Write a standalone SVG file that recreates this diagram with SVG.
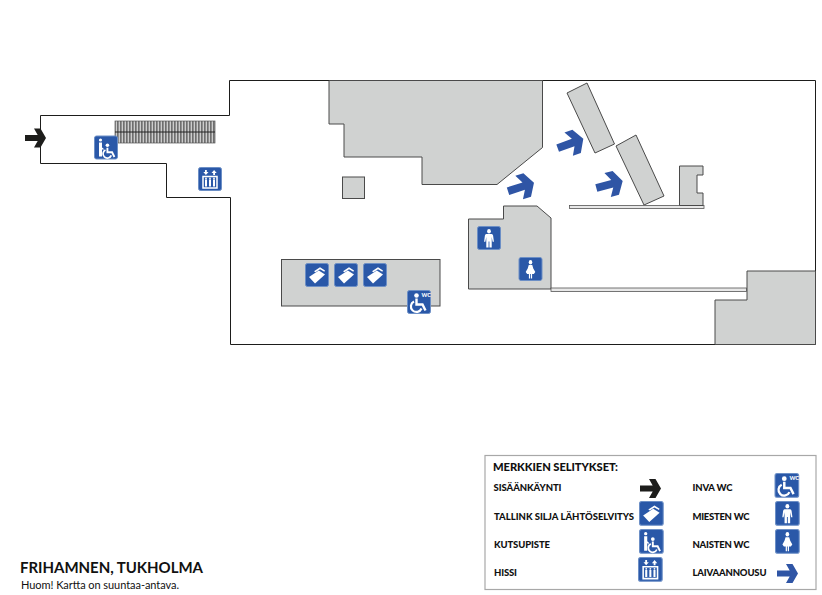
<svg xmlns="http://www.w3.org/2000/svg" xmlns:xlink="http://www.w3.org/1999/xlink" width="822" height="595" viewBox="0 0 822 595">
<style>
.w{fill:#fff;stroke:#1d1d1b;stroke-width:1}
.r{fill:#d0d2d1;stroke:#4a4a4a;stroke-width:1}
.t{font-family:"Lato","Open Sans",sans-serif;font-weight:900;font-size:9.5px;fill:#111}
.bg{fill:#2a58a8;stroke:#6c8fc6;stroke-width:1}
.ic{fill:#fff}
.il{fill:none;stroke:#fff}
</style>
<defs>
<pattern id="steps" width="3" height="4" patternUnits="userSpaceOnUse"><rect width="3" height="4" fill="#6f6f6f"/><rect x="1.700" width="1.200" height="4" fill="#d8d8d8"/></pattern>
<path id="arrow" d="M-10.500-3H2.200L-1.500-9.500H5L10.500 0 5 9.500H-1.500L2.200 3H-10.500Z"/>
<g id="man"><circle class="ic" cx="12" cy="5.200" r="2.200"/><path class="ic" d="M8.800 8H15.200Q16.500 8 16.800 9.500L17.800 15.800H16.300L15.200 11V21.500H12.500V15.500H11.500V21.500H8.800V11L7.700 15.800H6.200L7.200 9.500Q7.500 8 8.800 8Z"/></g>
<g id="woman"><circle class="ic" cx="12" cy="5.200" r="2.200"/><path class="ic" d="M9.800 8H14.200L15.500 11.500 18 15 16.200 17H14V21.500H12.500V17H11.500V21.500H10V17H7.800L6 15 8.500 11.500Z"/></g>
<g id="chair"><circle class="ic" cx="9.500" cy="5.500" r="2.300"/><path class="il" stroke-width="2.400" d="M9.500 8.500V14.500H15.500L18.500 20.500"/><path class="il" stroke-width="2.200" d="M7 11.500A5.500 5.500 0 1 0 14.500 18.500"/></g>
<g id="card"><path class="ic" d="M9 8.200 15 4.300 20 7.500 19.300 8.800 15 6.200 10.500 9.200Z"/><path class="ic" d="M4 14 13.800 7.500 20 11.500 10 20.500Z"/></g>
<g id="i-card"><rect class="bg" x=".5" y=".5" width="23" height="23" rx="2"/><use xlink:href="#card"/></g>
<g id="i-male"><rect class="bg" x=".5" y=".5" width="23" height="23" rx="2"/><use xlink:href="#man" transform="translate(1.800 0) scale(.85 1)"/></g>
<g id="i-female"><rect class="bg" x=".5" y=".5" width="23" height="23" rx="2"/><use xlink:href="#woman" transform="translate(2.400 0) scale(.8 1)"/></g>
<g id="i-inva"><rect class="bg" x=".5" y=".5" width="23" height="23" rx="2"/><use xlink:href="#chair"/><text x="14.500" y="7" font-family="Lato,sans-serif" font-weight="900" font-size="5.500" fill="#fff">WC</text></g>
<g id="i-call"><rect class="bg" x=".5" y=".5" width="23" height="23" rx="2"/><circle class="ic" cx="6.500" cy="4.500" r="1.600"/><path class="ic" d="M5 7H8V12L9.500 13V14.500L8 13.800V21H5Z"/><g transform="translate(6 5.500) scale(.78)"><use xlink:href="#chair"/></g></g>
<g id="i-lift"><rect class="bg" x=".5" y=".5" width="23" height="23" rx="2"/><path class="il" d="M5 9.500H19V21H5Z" stroke-width="1.500"/><path class="ic" d="M7 12.500H9V19.500H7ZM11 12.500H13V19.500H11ZM15 12.500H17V19.500H15Z"/><circle class="ic" cx="8" cy="11.500" r=".9"/><circle class="ic" cx="12" cy="11.500" r=".9"/><circle class="ic" cx="16" cy="11.500" r=".9"/><path class="ic" d="M7 3H8.800V5H10.500L7.900 8 5.300 5H7ZM15.200 8H17V6H18.700L16.100 3 13.500 6H15.200Z"/></g>
</defs>

<g id="building"><path class="w" d="M40.500 115.500H229.500V80.500H815.500V344.500H230.500V197.500H166.500V163.500H40.500Z"/></g>
<g id="escalator"><rect x="115" y="121" width="100" height="22" fill="url(#steps)" stroke="#555" stroke-width=".7"/><path d="M115 132H215" stroke="#222" stroke-width="1"/></g>
<g id="terminal-block"><path class="r" d="M329 80.500H542.500V147.500L497 184.500H422V157H344V124H329Z"/></g>
<g id="pillar"><rect class="r" x="342.500" y="177" width="22" height="21.500"/></g>
<g id="checkin-block"><rect class="r" x="281.500" y="259.500" width="158.500" height="46.500"/></g>
<g id="wc-block"><path class="r" d="M468.500 219H503.500V206H537L551 218V289H468.500Z"/></g>
<g id="corridor"><rect x="551" y="288" width="195.500" height="3.500" fill="#e8e8e8" stroke="#555" stroke-width=".8"/></g>
<g id="corner-block"><path class="r" d="M715 344.500V300H747V271H815.500V344.500Z"/></g>
<g id="gate-1"><path class="r" d="M567 93 587 83 614.500 144 595 153Z"/></g>
<g id="gate-2"><path class="r" d="M616 146 636 135 664 196 644 205Z"/></g>
<g id="pier"><rect x="569.500" y="205.500" width="134.500" height="3" fill="#e8e8e8" stroke="#555" stroke-width=".8"/></g>
<g id="kiosk"><path class="r" d="M679.500 166H703V175H697V193H703V205.500H679.500Z"/></g>

<g id="connectors">
<use xlink:href="#arrow" fill="#1d1d1b" transform="translate(35.500 138)"/>
<use xlink:href="#arrow" fill="#2f55a5" transform="translate(570.500 143.500) rotate(-20) scale(1.300)"/>
<use xlink:href="#arrow" fill="#2f55a5" transform="translate(609.500 184.500) rotate(-15) scale(1.300)"/>
<use xlink:href="#arrow" fill="#2f55a5" transform="translate(521 187) rotate(-18) scale(1.300)"/>
</g>

<g id="icon-call"><use xlink:href="#i-call" x="94" y="135.500"/></g>
<g id="icon-lift"><use xlink:href="#i-lift" x="198" y="167"/></g>
<g id="icon-card-1"><use xlink:href="#i-card" x="305" y="263"/></g>
<g id="icon-card-2"><use xlink:href="#i-card" x="334" y="263"/></g>
<g id="icon-card-3"><use xlink:href="#i-card" x="363" y="263"/></g>
<g id="icon-inva"><use xlink:href="#i-inva" x="407" y="290"/></g>
<g id="icon-male"><use xlink:href="#i-male" x="477" y="226"/></g>
<g id="icon-female"><use xlink:href="#i-female" x="518.500" y="257"/></g>

<g id="legend">
<rect x="485" y="455.500" width="331" height="134" fill="#fff" stroke="#a8a8a8" stroke-width="1.200"/>
<text class="t" x="493" y="471" style="font-size:11.200px" textLength="125">MERKKIEN SELITYKSET:</text>
<text class="t" x="493.500" y="491" textLength="68">SISÄÄNKÄYNTI</text>
<text class="t" x="494" y="520" textLength="140">TALLINK SILJA LÄHTÖSELVITYS</text>
<text class="t" x="494" y="548" textLength="56">KUTSUPISTE</text>
<text class="t" x="494" y="576" textLength="23">HISSI</text>
<text class="t" x="692.500" y="491" textLength="40">INVA WC</text>
<text class="t" x="692.500" y="520" textLength="57">MIESTEN WC</text>
<text class="t" x="692.500" y="548" textLength="57">NAISTEN WC</text>
<text class="t" x="692.500" y="576" textLength="74">LAIVAANNOUSU</text>
<use xlink:href="#arrow" fill="#1d1d1b" transform="translate(650.500 488.500)"/>
<use xlink:href="#arrow" fill="#2f55a5" transform="translate(787.500 573.500)"/>
<use xlink:href="#i-inva" transform="translate(774.500 473) scale(1.030)"/>
<use xlink:href="#i-card" transform="translate(639 501) scale(1.030)"/>
<use xlink:href="#i-call" transform="translate(639 529) scale(1.030)"/>
<use xlink:href="#i-lift" transform="translate(638 557) scale(1.030)"/>
<use xlink:href="#i-male" transform="translate(775 501) scale(1.030)"/>
<use xlink:href="#i-female" transform="translate(775 529) scale(1.030)"/>
</g>

<g id="title">
<text x="20" y="573" font-family="Lato,sans-serif" font-weight="700" font-size="15" fill="#111" textLength="183">FRIHAMNEN, TUKHOLMA</text>
<text x="21" y="589" font-family="Lato,sans-serif" font-size="11" fill="#111" textLength="158">Huom! Kartta on suuntaa-antava.</text>
</g>
</svg>
